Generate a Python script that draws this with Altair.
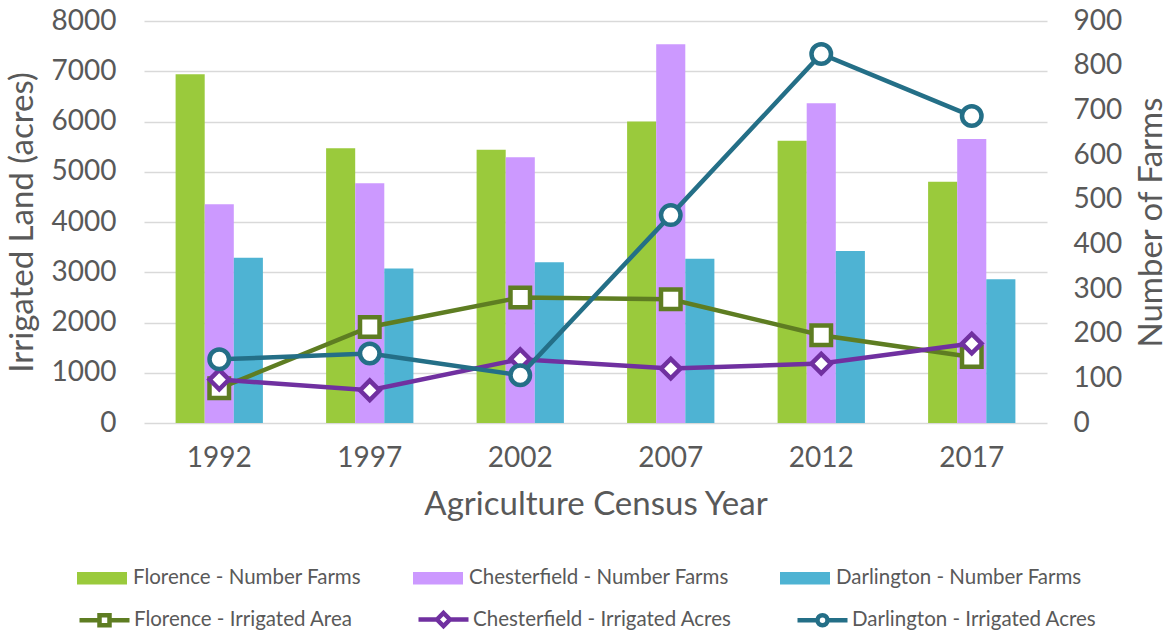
import altair as alt
import pandas as pd

# ---------------- data ----------------
years = ["1992", "1997", "2002", "2007", "2012", "2017"]

florence_farms = [781, 615, 612, 675, 632, 540]
chesterfield_farms = [490, 537, 595, 848, 716, 636]
darlington_farms = [370, 346, 360, 368, 385, 322]

florence_acres = [690, 1912, 2497, 2463, 1747, 1315]
chesterfield_acres = [864, 651, 1270, 1083, 1183, 1581]
darlington_acres = [1268, 1382, 950, 4137, 7343, 6108]

bar_names = ["Florence - Number Farms", "Chesterfield - Number Farms", "Darlington - Number Farms"]
line_names = ["Florence - Irrigated Area", "Chesterfield - Irrigated Acres", "Darlington - Irrigated Acres"]

# ---------------- styles ----------------
bar_colors = ["#9ACA3C", "#CC99FF", "#4EB3D3"]
line_colors = ["#5E7D22", "#7030A0", "#246F87"]
marker_shapes = ["square", "diamond", "circle"]
legend_paths = [
    "M-1,0H-0.2M0.2,0H1M-0.2,-0.2H0.2V0.2H-0.2Z",
    "M-1,0H-0.26M0.26,0H1M0,-0.26L0.26,0L0,0.26L-0.26,0Z",
    "M-1,0H-0.2M0.2,0H1M0.2,0A0.2,0.2 0 1,1 -0.2,0A0.2,0.2 0 1,1 0.2,0Z",
]
GRAY = "#595959"
FONT = "Lato"

bar_rows = []
for name, vals in zip(bar_names, [florence_farms, chesterfield_farms, darlington_farms]):
    for y, v in zip(years, vals):
        bar_rows.append({"year": y, "series": name, "farms": v})
bars_df = pd.DataFrame(bar_rows)

line_rows = []
for name, vals in zip(line_names, [florence_acres, chesterfield_acres, darlington_acres]):
    for y, v in zip(years, vals):
        line_rows.append({"year": y, "lseries": name, "acres": v})
lines_df = pd.DataFrame(line_rows)

x_scale = alt.Scale(domain=years, paddingInner=0.42, paddingOuter=0.21)
x_axis = alt.Axis(
    title="Agriculture Census Year", labelFontSize=28, titleFontSize=33,
    labelPadding=21, titlePadding=16, domain=False, ticks=False,
    labelColor=GRAY, titleColor=GRAY, titleFontWeight="normal", labelAngle=0,
)

bars = alt.Chart(bars_df).mark_bar().encode(
    x=alt.X("year:N", scale=x_scale, axis=x_axis),
    xOffset=alt.XOffset("series:N", scale=alt.Scale(domain=bar_names, paddingInner=0, paddingOuter=0)),
    y=alt.Y("farms:Q", scale=alt.Scale(domain=[0, 900], nice=False),
            axis=alt.Axis(orient="right", values=list(range(0, 901, 100)), format="d",
                          title="Number of Farms", titleAngle=270, titleBaseline="top",
                          grid=False, domain=False, ticks=False, labelFontSize=28, titleFontSize=33,
                          labelPadding=26, titlePadding=14, labelColor=GRAY, titleColor=GRAY,
                          titleFontWeight="normal")),
    fill=alt.Fill("series:N", scale=alt.Scale(domain=bar_names, range=bar_colors),
                  legend=alt.Legend(orient="none", legendX=-67, legendY=532, direction="horizontal",
                                    title=None, labelFontSize=20.5, labelColor=GRAY, labelFont=FONT,
                                    labelLimit=500, columnPadding=51, labelOffset=6, padding=0,
                                    symbolType="M-1,-0.25H1V0.25H-1Z", symbolSize=2500,
                                    symbolStrokeWidth=0)),
)

stroke_scale = alt.Scale(domain=line_names, range=line_colors)
y_left = alt.Y("acres:Q", scale=alt.Scale(domain=[0, 8000], nice=False),
               axis=alt.Axis(orient="left", values=list(range(0, 8001, 1000)), format="d",
                             title="Irrigated Land (acres)",
                             grid=True, gridColor="#D9D9D9", gridWidth=1.5, domain=False, ticks=False,
                             labelFontSize=28, titleFontSize=33, labelPadding=28, titlePadding=12,
                             labelColor=GRAY, titleColor=GRAY, titleFontWeight="normal"))
x_line = alt.X("year:N", scale=x_scale, axis=x_axis)

line_legend = alt.Legend(orient="none", legendX=-67, legendY=571, direction="horizontal",
                         title=None, labelFontSize=20.5, labelColor=GRAY, labelFont=FONT,
                         labelLimit=500, columnPadding=56, labelOffset=2, padding=0, symbolSize=2500,
                         symbolStrokeWidth=4.5, symbolFillColor="white")
shape_scale = alt.Scale(domain=line_names, range=legend_paths)

line_layers = []
for name, shp in zip(line_names, marker_shapes):
    base = alt.Chart(lines_df).transform_filter(alt.datum.lseries == name)
    line_layers.append(base.mark_line(strokeWidth=4.5).encode(
        x=x_line, y=y_left, stroke=alt.Stroke("lseries:N", scale=stroke_scale, legend=line_legend)))
    line_layers.append(base.mark_point(shape=shp, filled=False, fill="white", fillOpacity=1,
                                       strokeWidth=4.5, size=380).encode(
        x=x_line, y=y_left, stroke=alt.Stroke("lseries:N", scale=stroke_scale, legend=line_legend)))

legend_layer = alt.Chart(lines_df).transform_filter("false").mark_point(
    filled=False, fill="white", strokeWidth=4.5).encode(
    x=x_line, y=y_left,
    stroke=alt.Stroke("lseries:N", scale=stroke_scale, legend=line_legend),
    shape=alt.Shape("lseries:N", scale=shape_scale, legend=line_legend),
)

lines = alt.layer(*line_layers, legend_layer)

chart = alt.layer(bars, lines).resolve_scale(y="independent").properties(
    width=903, height=402,
    autosize=alt.AutoSizeParams(type="none"),
    padding={"left": 144, "top": 21, "right": 122, "bottom": 209},
).configure(font=FONT).configure_view(stroke=None).configure_axis(labelFont=FONT, titleFont=FONT)

chart.save("out.html", embed_options={"renderer": "svg", "actions": False})
